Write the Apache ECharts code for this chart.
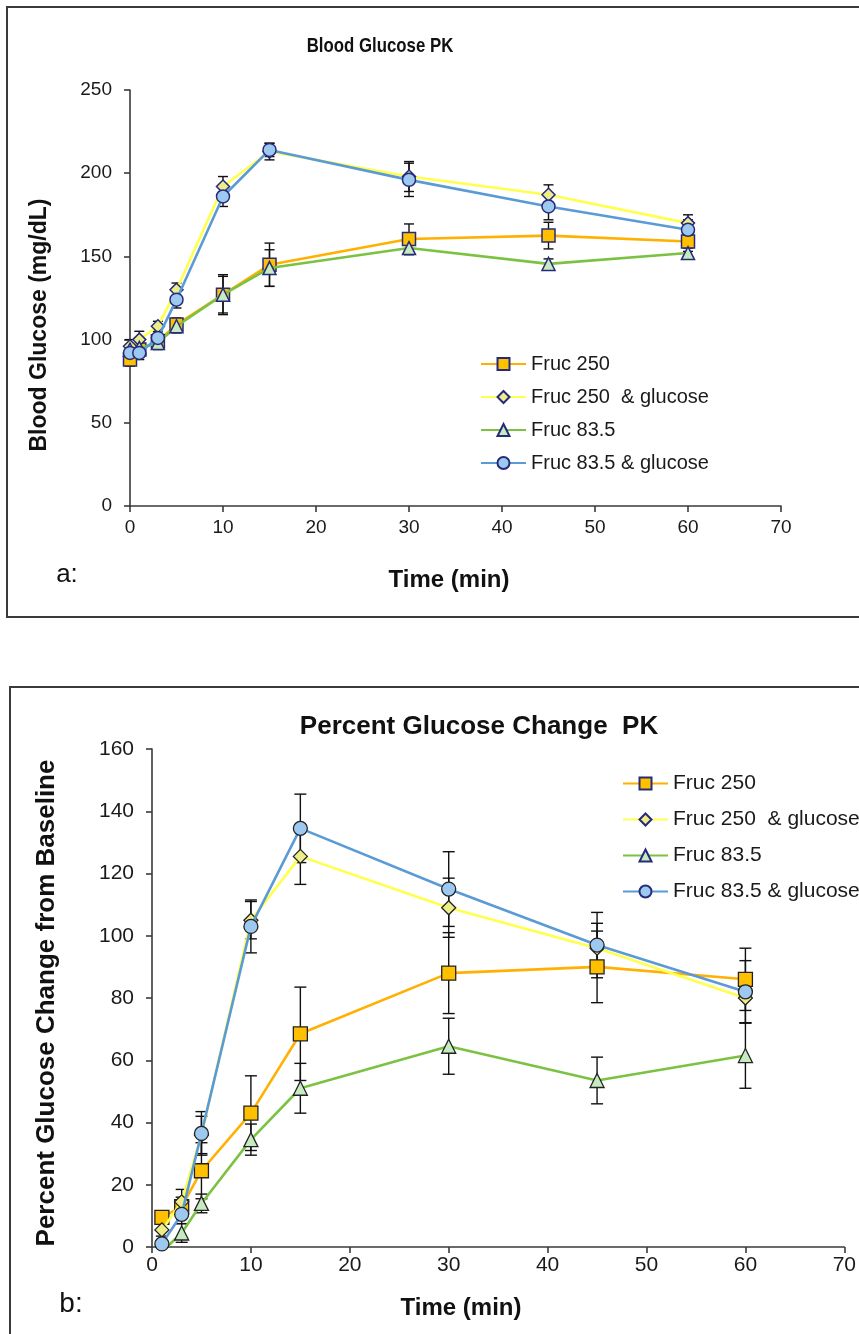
<!DOCTYPE html>
<html>
<head>
<meta charset="utf-8">
<script src="https://cdn.jsdelivr.net/npm/echarts@6/dist/echarts.min.js"></script>
<style>
html,body{margin:0;padding:0;background:#fff;}
#c{width:859px;height:1334px;}
</style>
</head>
<body>
<div id="c"></div>
<script>
// ---------- Panel a: Blood Glucose PK ----------
const timeA = [0, 1, 3, 5, 10, 15, 30, 45, 60];
const fruc250A      = [88, 94, 99, 109, 127, 145, 160.5, 162.5, 159];
const fruc250GluA   = [96, 100, 108, 130, 192, 213, 198, 187, 170];
const fruc835A      = [94, 95, 98, 108, 127, 143, 155, 145.5, 152];
const fruc835GluA   = [92, 92, 101, 124, 186, 214, 196, 180, 166];
const fruc250ErrA    = [4, 4, 4, 4, 12, 13, 9, 8, 6];
const fruc250GluErrA = [4, 5, 3, 4, 6, 5, 9, 6, 5];
const fruc835ErrA    = [3, 4, 4, 4, 11, 11, 4, 3, 3];
const fruc835GluErrA = [3, 4, 4, 5, 6, 4, 10, 8, 6];
const xTicksA = [0, 10, 20, 30, 40, 50, 60, 70];
const yTicksA = [0, 50, 100, 150, 200, 250];

// ---------- Panel b: Percent Glucose Change PK ----------
const timeB = [1, 3, 5, 10, 15, 30, 45, 60];
const fruc250B      = [9.5, 13, 24.5, 43, 68.5, 88, 90, 86];
const fruc250GluB   = [5.5, 14.5, 36, 105, 125.5, 109, 96, 80];
const fruc835B      = [-1.5, 4.5, 14, 34.5, 51, 64.5, 53.5, 61.5];
const fruc835GluB   = [1, 10.5, 36.5, 103, 134.5, 115, 97, 82];
const fruc250ErrB    = [2, 3, 9, 12, 15, 13, 11.5, 10];
const fruc250GluErrB = [2, 4, 6, 6, 9, 9.5, 8, 8];
const fruc835ErrB    = [2, 3, 3, 5, 8, 9, 7.5, 10.5];
const fruc835GluErrB = [1, 3, 7, 8.5, 11, 12, 10.5, 10];
const xTicksB = [0, 10, 20, 30, 40, 50, 60, 70];
const yTicksB = [0, 20, 40, 60, 80, 100, 120, 140, 160];

const seriesNames = ['Fruc 250', 'Fruc 250  & glucose', 'Fruc 83.5', 'Fruc 83.5 & glucose'];

const FONT = '"Liberation Sans", Arial, sans-serif';
const styles = [
  {symbol: 'rect',     line: '#FFB000', fill: '#FFC000'},
  {symbol: 'diamond',  line: '#FFFF4D', fill: '#EEEE88'},
  {symbol: 'triangle', line: '#7CC242', fill: '#C6EBC0'},
  {symbol: 'circle',   line: '#5B9BD5', fill: '#9DC8F0'}
];

function pairs(t, v) { return t.map((x, i) => [x, v[i]]); }
function triples(t, v, e) { return t.map((x, i) => [x, v[i], e[i]]); }

function errRender(hw) {
  return function (params, api) {
    const cs = params.coordSys;
    const x = api.value(0), v = api.value(1), e = api.value(2);
    const p1 = api.coord([x, v + e]);
    const p2 = api.coord([x, v - e]);
    const yMin = cs.y, yMax = cs.y + cs.height;
    const cl = y => Math.max(yMin, Math.min(yMax, y));
    const st = {stroke: '#111', lineWidth: 1.4};
    const ch = [{type: 'line', shape: {x1: p1[0], y1: cl(p1[1]), x2: p2[0], y2: cl(p2[1])}, style: st}];
    if (p1[1] >= yMin && p1[1] <= yMax) ch.push({type: 'line', shape: {x1: p1[0] - hw, y1: p1[1], x2: p1[0] + hw, y2: p1[1]}, style: st});
    if (p2[1] >= yMin && p2[1] <= yMax) ch.push({type: 'line', shape: {x1: p2[0] - hw, y1: p2[1], x2: p2[0] + hw, y2: p2[1]}, style: st});
    return {type: 'group', children: ch};
  };
}

function axisBase(min, max, interval, fontSize, margin) {
  return {
    type: 'value', min: min, max: max, interval: interval,
    axisLine: {show: true, lineStyle: {color: '#3a3a3a', width: 1.6}},
    axisTick: {show: true, inside: false, length: 6, lineStyle: {color: '#3a3a3a', width: 1.6}},
    splitLine: {show: false},
    axisLabel: {fontSize: fontSize, color: '#1a1a1a', fontFamily: FONT, margin: margin}
  };
}

const seriesA = [fruc250A, fruc250GluA, fruc835A, fruc835GluA];
const errA = [fruc250ErrA, fruc250GluErrA, fruc835ErrA, fruc835GluErrA];
const seriesB = [fruc250B, fruc250GluB, fruc835B, fruc835GluB];
const errB = [fruc250ErrB, fruc250GluErrB, fruc835ErrB, fruc835GluErrB];

const series = [];
errA.forEach((e, i) => series.push({
  type: 'custom', xAxisIndex: 0, yAxisIndex: 0, z: 1, silent: true,
  renderItem: errRender(5), data: triples(timeA, seriesA[i], e)
}));
errB.forEach((e, i) => series.push({
  type: 'custom', xAxisIndex: 1, yAxisIndex: 1, z: 1, silent: true,
  renderItem: errRender(6), data: triples(timeB, seriesB[i], e)
}));
seriesA.forEach((v, i) => series.push({
  name: seriesNames[i], type: 'line', xAxisIndex: 0, yAxisIndex: 0, z: 2 + i,
  data: pairs(timeA, v), symbol: styles[i].symbol, symbolSize: 13, showAllSymbol: true,
  lineStyle: {color: styles[i].line, width: 2.6},
  itemStyle: {color: styles[i].fill, borderColor: '#262a7a', borderWidth: 1.5}
}));
seriesB.forEach((v, i) => series.push({
  name: seriesNames[i], type: 'line', xAxisIndex: 1, yAxisIndex: 1, z: 2 + i,
  data: pairs(timeB, v), symbol: styles[i].symbol, symbolSize: 14, showAllSymbol: true, clip: true,
  lineStyle: {color: styles[i].line, width: 2.6},
  itemStyle: {color: styles[i].fill, borderColor: '#222', borderWidth: 1.3}
}));

function txt(x, y, text, size, weight, rot, sx) {
  return {
    type: 'text', x: x, y: y, rotation: rot || 0, scaleX: sx || 1, z: 10,
    style: {text: text, fontSize: size, fontWeight: weight, fontFamily: FONT, fill: '#111',
      align: 'center', verticalAlign: 'middle'}
  };
}

const option = {
  animation: false,
  backgroundColor: '#fff',
  graphic: [
    {type: 'rect', shape: {x: 7, y: 7, width: 900, height: 610}, style: {fill: 'none', stroke: '#3a3a3a', lineWidth: 2}, z: 0},
    {type: 'rect', shape: {x: 10, y: 687, width: 900, height: 700}, style: {fill: 'none', stroke: '#3a3a3a', lineWidth: 2}, z: 0},
    txt(380, 46, 'Blood Glucose PK', 21, 'bold', 0, 0.8),
    txt(40, 325, 'Blood Glucose (mg/dL)', 23, 'bold', Math.PI / 2),
    txt(449, 580, 'Time (min)', 24, 'bold'),
    txt(67, 575, 'a:', 26, 'normal'),
    txt(479, 727, 'Percent Glucose Change  PK', 26, 'bold'),
    txt(47, 1003, 'Percent Glucose Change from Baseline', 26, 'bold', Math.PI / 2),
    txt(461, 1308, 'Time (min)', 24, 'bold'),
    txt(71, 1304, 'b:', 28, 'normal')
  ],
  legend: [
    {data: seriesNames, orient: 'vertical', left: 475, top: 349, itemWidth: 45, itemHeight: 15, itemGap: 13,
      textStyle: {fontSize: 20, color: '#1a1a1a', fontFamily: FONT}, selectedMode: false},
    {data: seriesNames, orient: 'vertical', left: 617, top: 768, itemWidth: 45, itemHeight: 15, itemGap: 15,
      textStyle: {fontSize: 21, color: '#1a1a1a', fontFamily: FONT}, selectedMode: false}
  ],
  grid: [
    {left: 130, top: 90, width: 651, height: 416},
    {left: 152, top: 749, width: 693, height: 498}
  ],
  xAxis: [
    Object.assign(axisBase(xTicksA[0], xTicksA[xTicksA.length - 1], xTicksA[1] - xTicksA[0], 19, 12), {gridIndex: 0}),
    Object.assign(axisBase(xTicksB[0], xTicksB[xTicksB.length - 1], xTicksB[1] - xTicksB[0], 21, 8), {gridIndex: 1})
  ],
  yAxis: [
    Object.assign(axisBase(yTicksA[0], yTicksA[yTicksA.length - 1], yTicksA[1] - yTicksA[0], 19, 18), {gridIndex: 0}),
    Object.assign(axisBase(yTicksB[0], yTicksB[yTicksB.length - 1], yTicksB[1] - yTicksB[0], 21, 18), {gridIndex: 1})
  ],
  series: series
};

const chart = echarts.init(document.getElementById('c'), null, {renderer: 'canvas'});
chart.setOption(option);
</script>
</body>
</html>
